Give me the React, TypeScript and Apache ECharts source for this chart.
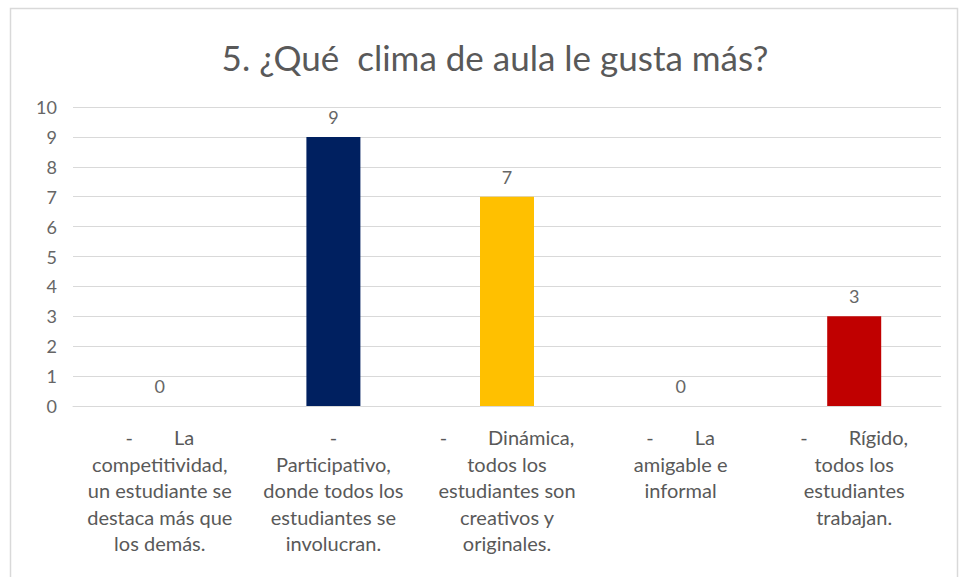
import React, { useEffect, useRef } from "react";
import * as echarts from "echarts";

const titleText = "5. ¿Qué  clima de aula le gusta más?";
const categories = [
  "-        La\ncompetitividad,\nun estudiante se\ndestaca más que\nlos demás.",
  "-\nParticipativo,\ndonde todos los\nestudiantes se\ninvolucran.",
  "-        Dinámica,\ntodos los\nestudiantes son\ncreativos y\noriginales.",
  "-        La\namigable e\ninformal",
  "-        Rígido,\ntodos los\nestudiantes\ntrabajan.",
];
const values = [0, 9, 7, 0, 3];
const barColors = ["#002060", "#002060", "#FFC000", "#002060", "#C00000"];
const yTicks = [0, 1, 2, 3, 4, 5, 6, 7, 8, 9, 10];

const FONT = "Lato, 'Noto Sans', sans-serif";
const GRAY = "#595959";

export default function App() {
  const ref = useRef<HTMLDivElement>(null);
  useEffect(() => {
    if (!ref.current) return;
    const chart = echarts.init(ref.current, undefined, { renderer: "svg" });
    chart.setOption({
      animation: false,
      backgroundColor: "#ffffff",
      title: {
        text: titleText,
        left: 490,
        textAlign: "center",
        top: 34,
        textStyle: { fontFamily: FONT, fontSize: 35, fontWeight: "normal", color: GRAY },
      },
      graphic: [
        {
          type: "rect",
          shape: { x: 10.5, y: 8.5, width: 947, height: 570 },
          style: { fill: "none", stroke: "#d9d9d9", lineWidth: 1.5 },
          silent: true,
        },
      ],
      grid: { left: 73, right: 22, top: 107, bottom: 171, containLabel: false },
      xAxis: {
        type: "category",
        data: categories,
        axisLine: { show: true, lineStyle: { color: "#d9d9d9", width: 1 } },
        axisTick: { show: false },
        axisLabel: {
          interval: 0,
          fontFamily: FONT,
          fontSize: 20,
          color: GRAY,
          lineHeight: 26.5,
          margin: 18,
          align: "center",
        },
      },
      yAxis: {
        type: "value",
        min: yTicks[0],
        max: yTicks[yTicks.length - 1],
        interval: 1,
        axisLine: { show: false },
        axisTick: { show: false },
        splitLine: { lineStyle: { color: "#d9d9d9", width: 1 } },
        axisLabel: { fontFamily: FONT, fontSize: 18, color: "#666666", margin: 16 },
      },
      series: [
        {
          type: "bar",
          barWidth: 54,
          data: values.map((v, i) => ({ value: v, itemStyle: { color: barColors[i] } })),
          label: {
            show: true,
            position: "top",
            distance: 11,
            fontFamily: FONT,
            fontSize: 18,
            color: "#666666",
          },
        },
      ],
    });
    return () => chart.dispose();
  }, []);
  return (
    <div
      ref={ref}
      style={{ position: "fixed", left: 0, top: 0, width: 963, height: 577 }}
    />
  );
}
